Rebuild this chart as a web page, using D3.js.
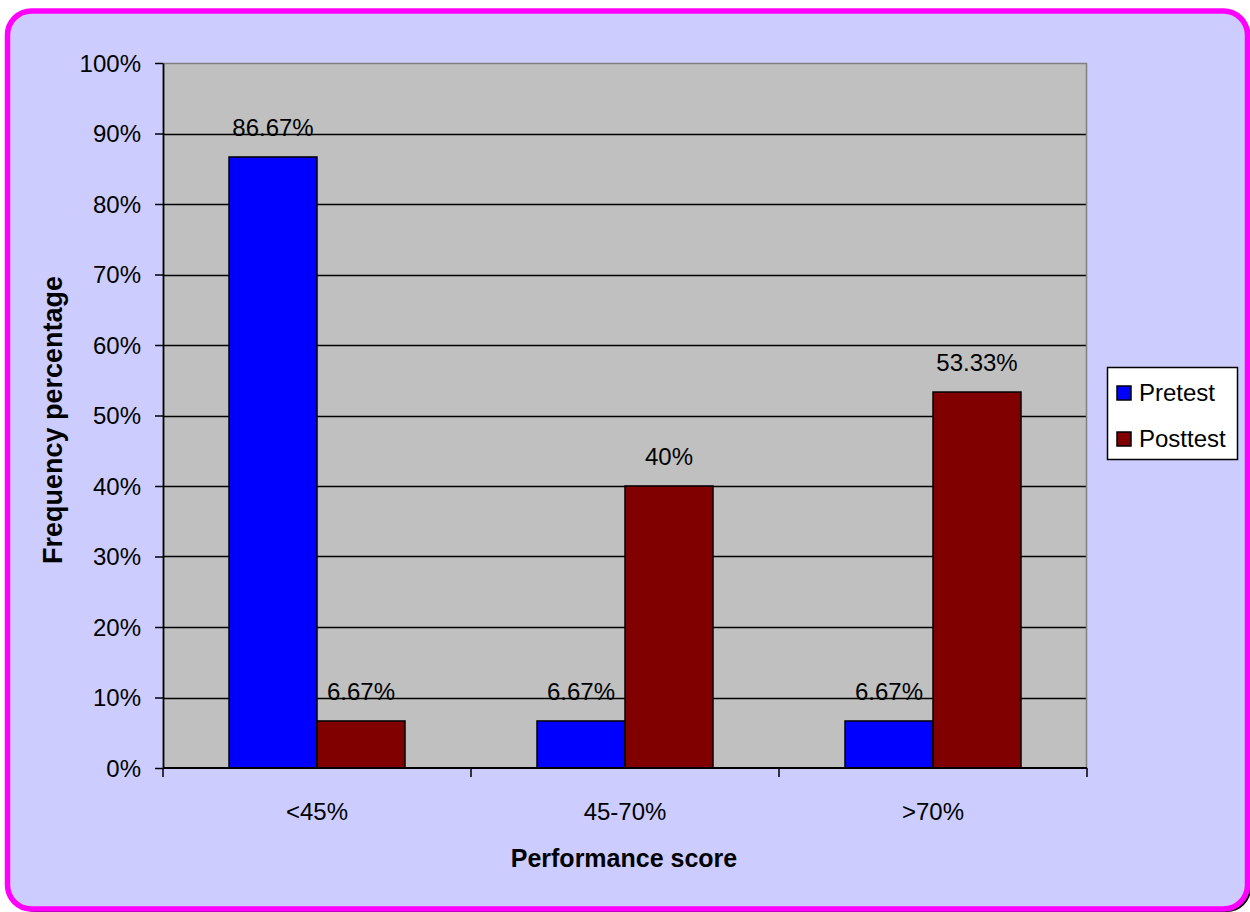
<!DOCTYPE html>
<html><head><meta charset="utf-8">
<script src="https://cdn.jsdelivr.net/npm/d3@7/dist/d3.min.js"></script>
<style>html,body{margin:0;padding:0;background:#fff;}svg{display:block;}</style>
</head><body>
<svg id="c" width="1250" height="912"></svg>
<script>
const categories = ["<45%", "45-70%", ">70%"];
const seriesNames = ["Pretest", "Posttest"];
const pretest = [86.67, 6.67, 6.67];
const posttest = [6.67, 40, 53.33];
const valueLabels = [["86.67%", "6.67%", "6.67%"], ["6.67%", "40%", "53.33%"]];
const yTicks = [0, 10, 20, 30, 40, 50, 60, 70, 80, 90, 100];
const colors = ["#0000FF", "#800000"];

const svg = d3.select("#c");
const font = "'Liberation Sans', Arial, sans-serif";

// outer frame with shadow
svg.append("rect").attr("x", 11).attr("y", 14).attr("width", 1240).attr("height", 898)
  .attr("rx", 24).attr("fill", "#000");
svg.append("rect").attr("x", 7.5).attr("y", 11).attr("width", 1240).attr("height", 898)
  .attr("rx", 24).attr("fill", "#CCCCFF").attr("stroke", "#FF00FF").attr("stroke-width", 5.5);

const L = 163, R = 1087, T = 63, B = 768;
const x = d3.scaleBand().domain(categories).range([L, R]).paddingInner(0).paddingOuter(0);
const y = d3.scaleLinear().domain([0, 100]).range([B, T]);
const bw = x.bandwidth() / 3.5;

const g = svg.append("g");
g.append("rect").attr("x", L).attr("y", T).attr("width", R - L).attr("height", B - T).attr("fill", "#C0C0C0");

// gridlines
g.selectAll("line.grid").data(yTicks.filter(d => d > 0 && d < 100)).enter().append("line")
  .attr("x1", L).attr("x2", R).attr("y1", d => Math.round(y(d)) + 0.5).attr("y2", d => Math.round(y(d)) + 0.5)
  .attr("stroke", "#000").attr("stroke-width", 1.3);
// top & right border gray
g.append("line").attr("x1", L).attr("x2", R).attr("y1", T + 0.5).attr("y2", T + 0.5).attr("stroke", "#808080").attr("stroke-width", 1.5);
g.append("line").attr("x1", R - 0.5).attr("x2", R - 0.5).attr("y1", T).attr("y2", B).attr("stroke", "#808080").attr("stroke-width", 1.5);

// bars
const series = [pretest, posttest];
series.forEach((vals, si) => {
  g.selectAll("rect.s" + si).data(categories).enter().append("rect")
    .attr("x", d => x(d) + bw * 0.75 + si * bw)
    .attr("y", (d, i) => y(vals[i]))
    .attr("width", bw).attr("height", (d, i) => B - y(vals[i]))
    .attr("fill", colors[si]).attr("stroke", "#000").attr("stroke-width", 1.5);
  g.selectAll("text.l" + si).data(categories).enter().append("text")
    .attr("x", d => x(d) + bw * 0.75 + si * bw + bw / 2)
    .attr("y", (d, i) => y(vals[i]) - 21)
    .attr("text-anchor", "middle").attr("font-family", font).attr("font-size", 24).attr("fill", "#000")
    .text((d, i) => valueLabels[si][i]);
});

// y axis
const yAxis = d3.axisLeft(y).tickValues(yTicks).tickFormat(d => d + "%").tickSize(8).tickSizeOuter(0);
const ya = svg.append("g").attr("transform", `translate(${L},0)`).call(yAxis);
ya.select(".domain").attr("stroke", "#000").attr("stroke-width", 1.8);
ya.selectAll(".tick line").attr("stroke", "#000").attr("stroke-width", 1.5);
ya.selectAll(".tick text").attr("font-family", font).attr("font-size", 24).attr("fill", "#000")
  .attr("x", -22).attr("dy", "0.35em");

// x axis
const xa = svg.append("g").attr("transform", `translate(0,${B})`);
xa.append("line").attr("x1", L).attr("x2", R).attr("y1", 0).attr("y2", 0).attr("stroke", "#000").attr("stroke-width", 1.8);
const bounds = categories.map(c => x(c)).concat([R]);
xa.selectAll("line.t").data(bounds).enter().append("line")
  .attr("x1", d => d).attr("x2", d => d).attr("y1", 0).attr("y2", 9).attr("stroke", "#000").attr("stroke-width", 1.5);
xa.selectAll("text").data(categories).enter().append("text")
  .attr("x", d => x(d) + x.bandwidth() / 2).attr("y", 52)
  .attr("text-anchor", "middle").attr("font-family", font).attr("font-size", 24).attr("fill", "#000").text(d => d);

// axis titles
svg.append("text").attr("x", 624).attr("y", 867).attr("text-anchor", "middle")
  .attr("font-family", font).attr("font-size", 25).attr("font-weight", "bold").text("Performance score");
svg.append("text").attr("transform", `translate(62,420) rotate(-90)`).attr("text-anchor", "middle")
  .attr("font-family", font).attr("font-size", 27).attr("font-weight", "bold").text("Frequency percentage");

// legend
const lg = svg.append("g");
lg.append("rect").attr("x", 1107.5).attr("y", 367.5).attr("width", 130).attr("height", 92)
  .attr("fill", "#fff").attr("stroke", "#000").attr("stroke-width", 1.5);
seriesNames.forEach((n, i) => {
  const cy = 393 + i * 46;
  lg.append("rect").attr("x", 1117).attr("y", cy - 7).attr("width", 14).attr("height", 14)
    .attr("fill", colors[i]).attr("stroke", "#000").attr("stroke-width", 1.5);
  lg.append("text").attr("x", 1139).attr("y", cy).attr("dy", "0.35em")
    .attr("font-family", font).attr("font-size", 24).attr("fill", "#000").text(n);
});
</script>
</body></html>
